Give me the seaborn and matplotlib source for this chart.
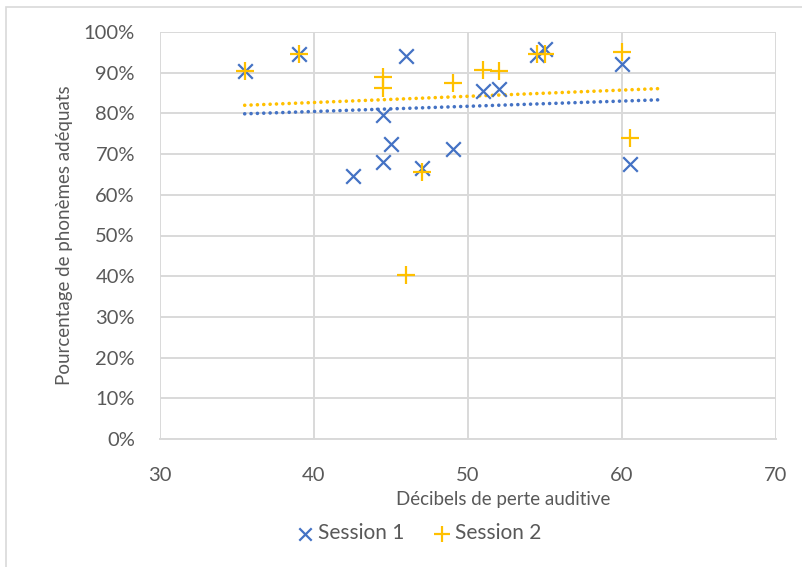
import numpy as np
import pandas as pd
import matplotlib
matplotlib.use("Agg")
import matplotlib.pyplot as plt
from matplotlib.patches import Rectangle
from matplotlib.ticker import PercentFormatter
import seaborn as sns

# Session 1 : décibels de perte auditive / % de phonèmes adéquats
s1_db = [35.5, 39, 46, 44.5, 45, 44.5, 42.5, 47, 49, 51, 52, 54.5, 55, 60, 60.5]
s1_pct = [90.3, 94.5, 94.2, 79.6, 72.6, 68.0, 64.7, 66.7, 71.2, 85.6, 85.9, 94.3, 95.9, 92.1, 67.6]

# Session 2
s2_db = [35.5, 39, 44.5, 44.5, 49, 47, 46, 51, 52, 54.5, 55, 60, 60.5]
s2_pct = [90.5, 94.5, 89.0, 86.3, 87.4, 65.7, 40.3, 90.7, 90.5, 94.5, 94.5, 95.0, 74.0]

x_ticks = [30, 40, 50, 60, 70]
y_ticks = [0, 10, 20, 30, 40, 50, 60, 70, 80, 90, 100]

BLUE = "#4472C4"
GOLD = "#FFC000"
GREY_TXT = "#595959"
GRID = "#D9D9D9"
TREND_FORWARD = 2  # prolongation de la courbe de tendance (comme dans Excel)

sns.set_style("white")
plt.rcParams["font.family"] = ["Lato", "DejaVu Sans"]

df1 = pd.DataFrame({"db": s1_db, "pct": s1_pct})
df2 = pd.DataFrame({"db": s2_db, "pct": s2_pct})

fig = plt.figure(figsize=(8.03, 5.67), dpi=100)
ax = fig.add_axes([160 / 803, 1 - 439 / 567, 616 / 803, 407 / 567])

# cadre de la zone de graphique
fig.patches.append(Rectangle((6 / 803, -0.1), 1.1, 1 - 7 / 567 + 0.1,
                             transform=fig.transFigure, fill=False,
                             edgecolor=GRID, linewidth=1.2, zorder=0))

# courbes de tendance linéaires
for df, col in [(df1, BLUE), (df2, GOLD)]:
    slope, icpt = np.polyfit(df["db"], df["pct"], 1)
    xs = np.array([df["db"].min(), df["db"].max() + TREND_FORWARD])
    ax.plot(xs, slope * xs + icpt, color=col, linestyle=(0, (0.01, 1.75)),
            linewidth=2.6, dash_capstyle="round", zorder=2)

sns.scatterplot(data=df1, x="db", y="pct", marker="x", color=BLUE, s=110,
                linewidth=1.6, ax=ax, label="Session 1", zorder=3)
sns.scatterplot(data=df2, x="db", y="pct", marker="+", color=GOLD, s=170,
                linewidth=1.6, ax=ax, label="Session 2", zorder=4)

ax.set_xlim(30, 70)
ax.set_ylim(0, 100)
ax.set_xticks(x_ticks)
ax.set_yticks(y_ticks)
ax.yaxis.set_major_formatter(PercentFormatter(decimals=0))
ax.grid(True, color=GRID, linewidth=1.4)
ax.set_axisbelow(True)
for side in ["top", "right", "left"]:
    ax.spines[side].set_visible(False)
ax.spines["bottom"].set_color(GRID)
ax.spines["bottom"].set_linewidth(1.4)
ax.tick_params(axis="y", length=0, labelsize=14.5, colors=GREY_TXT, pad=18)
ax.tick_params(axis="x", length=0, labelsize=14.5, colors=GREY_TXT, pad=20)

ax.set_xlabel("Décibels de perte auditive", fontsize=13.5, color=GREY_TXT)
ax.set_ylabel("Pourcentage de phonèmes adéquats", fontsize=13.5, color=GREY_TXT)
ax.xaxis.set_label_coords((503 - 160) / 616, (439 - 500) / 407)
ax.yaxis.set_label_coords((65 - 160) / 616, 0.5)
ax.xaxis.label.set_va("center")
ax.yaxis.label.set_va("center")

ax.legend(loc="center", bbox_to_anchor=(418 / 803, 1 - 533 / 567),
          bbox_transform=fig.transFigure, ncol=2, frameon=False,
          fontsize=15, labelcolor=GREY_TXT, handletextpad=0.15,
          columnspacing=1.3, handlelength=1.0, markerscale=0.85)

fig.savefig("out.png", dpi=100)
